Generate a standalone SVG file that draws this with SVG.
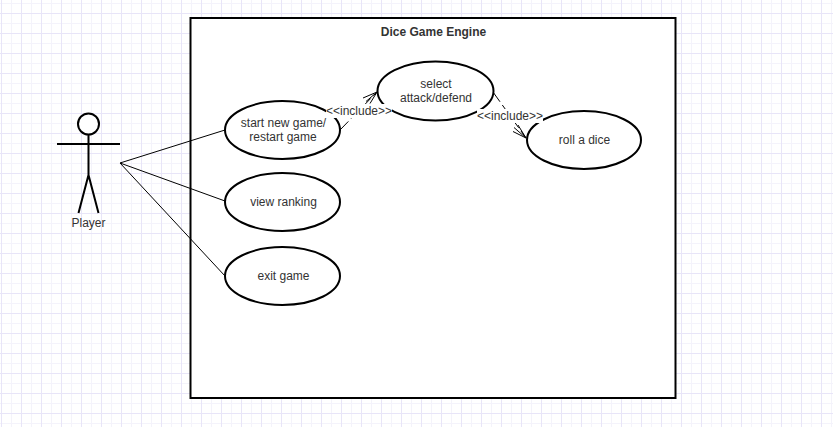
<svg xmlns="http://www.w3.org/2000/svg" width="833" height="427" viewBox="0 0 833 427">
<style>
.s{fill:none;stroke:#000;stroke-width:2}
.e{fill:#fff;stroke:#000;stroke-width:2}
.c{fill:none;stroke:#000;stroke-width:1}
.d{fill:none;stroke:#000;stroke-width:1;stroke-dasharray:12 4}
.a{fill:none;stroke:#000;stroke-width:1}
.t{font-family:"Liberation Sans",Arial,sans-serif;font-size:12px;fill:#333;text-anchor:middle}
.lb{fill:#fff}
</style>
<defs>
<pattern id="g" width="20" height="20" patternUnits="userSpaceOnUse" x="1" y="13">
<path d="M10.5 0V20M0 10.5H20" fill="none" stroke="#f4f3fb" stroke-width="1"/>
<path d="M0.5 0V20M0 0.5H20" fill="none" stroke="#e8e5f8" stroke-width="1"/>
</pattern>
</defs>
<rect width="833" height="427" fill="#fff"/>
<rect width="833" height="427" fill="url(#g)"/>
<g id="system"><rect x="190.500" y="18" width="485" height="380" fill="#fff" stroke="#000" stroke-width="2"/>
<text x="433.500" y="36" class="t" font-weight="bold">Dice Game Engine</text></g>
<g id="connectors">
<path class="c" d="M120 163L225 130M120 163L225 201M120 163L225 276"/>
<path class="d" d="M340 130L377 92"/>
<path class="a" d="M363 98L377 92L370 103.500M366 101.500L377 92"/>
<path class="d" d="M493 92L526 138"/>
<path class="a" d="M513 131.500L526 138L518 125M514 127.500L526 138"/>
</g>
<g id="player">
<circle cx="88.500" cy="124" r="10.500" class="e"/>
<path class="s" d="M88.500 134.500V175M57 144H120M78.500 213L88.500 175L98.500 213"/>
<text x="88.500" y="227" class="t">Player</text>
</g>
<g id="start"><ellipse cx="282.500" cy="130" rx="57.500" ry="29" class="e"/><text class="t" x="283.500" y="127">start new game/</text><text class="t" x="283" y="141">restart game</text></g>
<g id="view"><ellipse cx="282.500" cy="202" rx="57.500" ry="29" class="e"/><text class="t" x="283.500" y="206">view ranking</text></g>
<g id="exit"><ellipse cx="282.500" cy="276" rx="57.500" ry="29" class="e"/><text class="t" x="283.500" y="280">exit game</text></g>
<g id="select"><ellipse cx="435.500" cy="91" rx="58" ry="29.500" class="e"/><text class="t" x="436" y="88">select</text><text class="t" x="436" y="102">attack/defend</text></g>
<g id="roll"><ellipse cx="584" cy="140" rx="57" ry="29" class="e"/><text class="t" x="584.500" y="144">roll a dice</text></g>
<g id="labels">
<rect class="lb" x="326" y="104" width="66" height="14"/><text class="t" x="359" y="115">&lt;&lt;include&gt;&gt;</text>
<rect class="lb" x="477" y="109" width="66" height="14"/><text class="t" x="510" y="120">&lt;&lt;include&gt;&gt;</text>
</g>
</svg>
